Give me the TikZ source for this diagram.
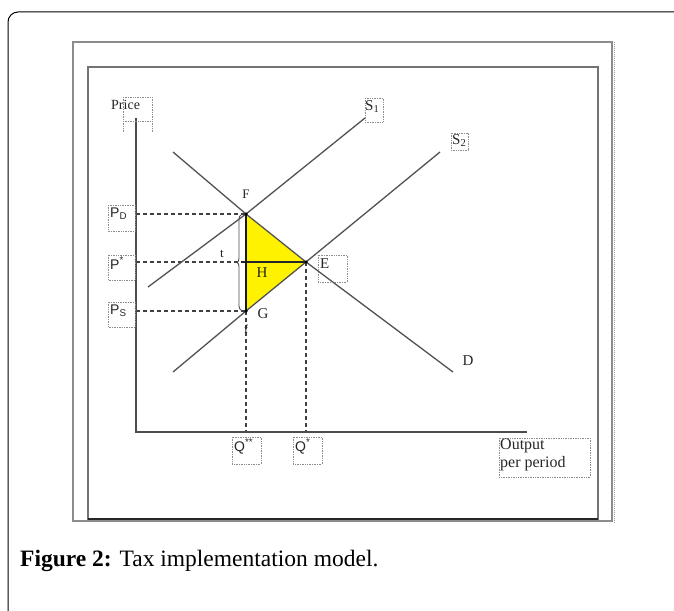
\documentclass[tikz,border=0pt]{standalone}
\usepackage{fontspec}
\setmainfont{Liberation Serif}
\setsansfont{Liberation Sans}
\usetikzlibrary{decorations.pathreplacing}
\begin{document}
\begin{tikzpicture}[x=1pt,y=-1pt,
  curve/.style={draw=black!68, line width=1.3pt},
  guide/.style={draw=black!75, dash pattern=on 4pt off 3pt, line width=1.3pt},
  lbox/.style={draw=black!45, densely dotted, line width=0.7pt},
  lab/.style={font=\fontsize{15}{17}\selectfont, inner sep=0pt, anchor=north west, text=black!85},
  slab/.style={font=\sffamily\fontsize{14}{16}\selectfont, inner sep=0pt, anchor=north west, text=black!85},
  pt/.style={circle, fill=black, inner sep=0pt, minimum size=3.5pt}]
\useasboundingbox (0,0) rectangle (674,610);
\fill[white] (0,0) rectangle (674,610);
% outer frame
\draw[line width=1pt, rounded corners=10pt] (700,12) -- (8,12) -- (8,640);
% picture boxes
\draw[black!45, line width=2pt] (73,42) rectangle (612,521);
\draw[black!40, densely dotted, line width=1pt] (614,42) -- (614,524);
\draw[black!55, line width=1.6pt] (88,67) rectangle (598,519);
\draw[black!85, line width=1.6pt] (88,519) -- (598,519);
% key points
\coordinate (O) at (136,432);
\coordinate (Ytop) at (136,118);
\coordinate (Xend) at (527,432);
\coordinate (F) at (246,214);
\coordinate (E) at (306,262);
\coordinate (G) at (246,311);
\coordinate (PdA) at (136,214);
\coordinate (PsA) at (136,311);
\coordinate (PeA) at (136,262);
\coordinate (Hl) at (238,262);
\coordinate (Hr) at (241,262);
\coordinate (FQ) at (246,432);
\coordinate (EQ) at (306,432);
\coordinate (S1a) at (148,287);
\coordinate (S1b) at (365,118);
\coordinate (S2a) at (173,372);
\coordinate (S2b) at (440,152);
\coordinate (Da) at (173,152);
\coordinate (Db) at (453,372);
% yellow triangle
\fill[yellow] (F) -- (E) -- (G) -- cycle;
% guides
\draw[guide] (PdA) -- (F);
\draw[guide] (PeA) -- (Hl);
\draw[guide] (PsA) -- (G);
\draw[guide] (G) -- (FQ);
\draw[guide] (E) -- (EQ);
% curves
\draw[curve] (S1a) -- (F) -- (S1b);
\draw[curve] (S2a) -- (G) -- (E) -- (S2b);
\draw[curve] (Da) -- (F) -- (E) -- (Db);
\draw[black!85, line width=1.3pt] (Hr) -- (E);
\draw[black!90, line width=1.6pt] (F) -- (G);
\draw[black!70, line width=0.9pt, decorate, decoration={brace, amplitude=4pt}] (241,310) -- (241,215);
% axes
\draw[black!70, line width=2pt] (Ytop) -- (O) -- (Xend);
% points
\node[pt] at (F) {};
\node[pt] at (E) {};
\node[pt] at (G) {};
% labels
\node[lab, font=\fontsize{14}{16}\selectfont] (price) at (111,100) {Price};
\draw[lbox] (123,97) rectangle (152,121);
\draw[lbox] (123,121) -- (123,132) (152,121) -- (152,132);
\draw[lbox] (365,98) rectangle (383,122);
\node[lab] (s1) at (365,100) {S\textsubscript{1}};
\draw[lbox] (451,133) rectangle (468,150);
\node[lab] (s2) at (452,134) {S\textsubscript{2}};
\node[lab, anchor=center] (d) at (468,361) {D};
\node[lab, anchor=center, font=\fontsize{13}{15}\selectfont] (f) at (246,194) {F};
\node[lab, anchor=center, font=\fontsize{13}{15}\selectfont] (t) at (222,254) {t};
\node[lab, anchor=center] (h) at (262,273) {H};
\node[lab, anchor=center] (g) at (263,314) {G};
\node[lab, anchor=center, font=\fontsize{12}{14}\selectfont] (ff) at (246,329) {f};
\draw[lbox] (318,255) rectangle (347,282);
\node[lab] (e) at (320,258) {E};
\draw[lbox] (108,205) rectangle (135,231);
\node[slab] (pd) at (110,208) {P\textsubscript{D}};
\draw[lbox] (108,255) rectangle (135,280);
\node[slab] (pe) at (110,257) {P\textsuperscript{*}};
\draw[lbox] (108,302) rectangle (135,327);
\node[slab] (ps) at (110,305) {P\textsubscript{S}};
\draw[lbox] (232,437) rectangle (261,464);
\node[slab] (q2) at (234,439) {Q\textsuperscript{**}};
\draw[lbox] (293,437) rectangle (322,464);
\node[slab] (q1) at (295,439) {Q\textsuperscript{*}};
\draw[lbox] (499,438) rectangle (590,477);
\node[lab, align=left, font=\fontsize{16}{18}\selectfont] (out) at (500,439) {Output\\per period};
% caption
\node[anchor=base west, inner sep=0pt, font=\fontsize{23.5}{27}\selectfont] (cap) at (20,566) {\textbf{Figure 2:} Tax implementation model.};
\end{tikzpicture}
\end{document}
